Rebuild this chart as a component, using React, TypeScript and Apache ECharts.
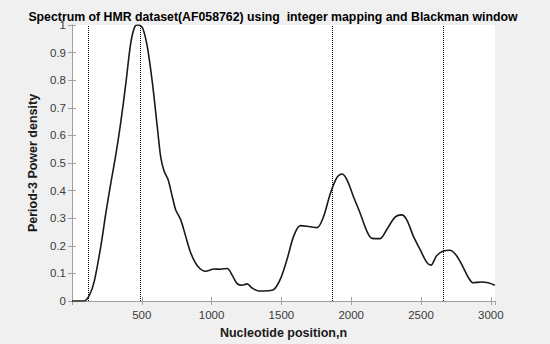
import React, { useEffect, useRef } from "react";
import * as echarts from "echarts";

const positions = [0, 88, 124, 159, 207, 243, 279, 314, 350, 386, 421, 450, 474, 505, 540, 576, 612, 636, 660, 688, 719, 743, 779, 814, 850, 898, 957, 1017, 1064, 1112, 1148, 1183, 1219, 1255, 1290, 1338, 1398, 1445, 1493, 1541, 1588, 1636, 1695, 1755, 1802, 1850, 1898, 1933, 1969, 2017, 2064, 2112, 2148, 2207, 2255, 2314, 2362, 2398, 2445, 2493, 2541, 2571, 2612, 2660, 2707, 2755, 2802, 2838, 2874, 2933, 2981, 3029];
const density = [0, 0, 0.02, 0.07, 0.2, 0.32, 0.43, 0.53, 0.65, 0.79, 0.935, 0.994, 1.0, 0.99, 0.92, 0.79, 0.626, 0.52, 0.47, 0.44, 0.377, 0.33, 0.294, 0.235, 0.175, 0.128, 0.108, 0.116, 0.115, 0.118, 0.093, 0.063, 0.057, 0.062, 0.047, 0.036, 0.037, 0.041, 0.08, 0.152, 0.235, 0.273, 0.27, 0.266, 0.306, 0.389, 0.448, 0.46, 0.44, 0.377, 0.318, 0.253, 0.227, 0.226, 0.259, 0.304, 0.312, 0.294, 0.235, 0.187, 0.14, 0.13, 0.164, 0.181, 0.184, 0.164, 0.122, 0.086, 0.066, 0.069, 0.066, 0.057];
const markers = [119, 486, 1866, 2660];

const titleText = "Spectrum of HMR dataset(AF058762) using  integer mapping and Blackman window";
const xName = "Nucleotide position,n";
const yName = "Period-3 Power density";

export default function App() {
  const ref = useRef<HTMLDivElement>(null);
  useEffect(() => {
    const chart = echarts.init(ref.current!, null, { renderer: "svg" });
    const font = "'Liberation Sans', Arial, sans-serif";
    const axisColor = "#a0a0a0";
    const textColor = "#3a3a3a";
    chart.setOption({
      animation: false,
      backgroundColor: "#f0f0f0",
      textStyle: { fontFamily: font },
      title: {
        text: titleText,
        left: 268,
        top: 6,
        textAlign: "center",
        textStyle: { fontSize: 12.3, fontWeight: "bold", color: "#000", fontFamily: font },
      },
      grid: { left: 72, right: 55, top: 25, bottom: 39, show: true, backgroundColor: "#fff", borderWidth: 0 },
      xAxis: [
        {
          type: "value",
          min: 0,
          max: 3030,
          interval: 500,
          name: xName,
          nameLocation: "middle",
          nameGap: 25,
          nameTextStyle: { fontSize: 12.5, fontWeight: "bold", color: "#1a1a1a", fontFamily: font },
          axisLine: { show: true, lineStyle: { color: axisColor, width: 1 } },
          axisTick: { show: true, inside: true, length: 4, lineStyle: { color: axisColor } },
          axisLabel: {
            fontSize: 11.5,
            color: textColor,
            fontFamily: font,
            margin: 8,
            showMaxLabel: false,
            formatter: (v: number) => (v === 0 ? "" : String(v)),
          },
          splitLine: { show: false },
        },
        {
          type: "value",
          position: "top",
          min: 0,
          max: 3030,
          interval: 500,
          axisLine: { show: true, lineStyle: { color: axisColor, width: 1 } },
          axisTick: { show: true, inside: true, length: 4, lineStyle: { color: axisColor } },
          axisLabel: { show: false },
          splitLine: { show: false },
        },
      ],
      yAxis: [
        {
          type: "value",
          min: 0,
          max: 1,
          interval: 0.1,
          name: yName,
          nameLocation: "middle",
          nameGap: 26,
          nameTextStyle: { fontSize: 12.5, fontWeight: "bold", color: "#1a1a1a", fontFamily: font },
          axisLine: { show: true, lineStyle: { color: axisColor, width: 1 } },
          axisTick: { show: true, inside: true, length: 4, lineStyle: { color: axisColor } },
          axisLabel: {
            fontSize: 11.5,
            color: textColor,
            fontFamily: font,
            margin: 6,
            formatter: (v: number) => (v === 0 || v === 1 ? String(v) : v.toFixed(1)),
          },
          splitLine: { show: false },
        },
        {
          type: "value",
          position: "right",
          min: 0,
          max: 1,
          interval: 0.1,
          axisLine: { show: true, lineStyle: { color: axisColor, width: 1 } },
          axisTick: { show: true, inside: true, length: 4, lineStyle: { color: axisColor } },
          axisLabel: { show: false },
          splitLine: { show: false },
        },
      ],
      series: [
        {
          type: "line",
          data: positions.map((p, i) => [p, density[i]]),
          smooth: 0.3,
          showSymbol: false,
          lineStyle: { color: "#1a1a1a", width: 1.6 },
          z: 3,
          markLine: {
            silent: true,
            symbol: "none",
            label: { show: false },
            lineStyle: { color: "#000", type: [1, 1], width: 1 },
            data: markers.map((m) => ({ xAxis: m })),
          },
        },
      ],
    });
    return () => chart.dispose();
  }, []);
  return <div ref={ref} style={{ width: 550, height: 344, position: "absolute", left: 0, top: 0 }} />;
}
